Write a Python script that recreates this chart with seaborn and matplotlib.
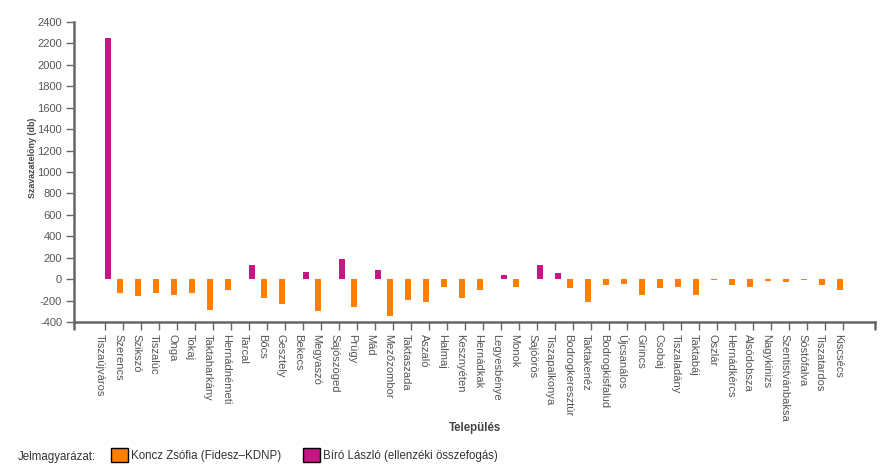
import matplotlib
matplotlib.use("Agg")
import numpy as np
import pandas as pd
import seaborn as sns
import matplotlib.pyplot as plt
import matplotlib.patches as mpatches
from matplotlib.lines import Line2D
from matplotlib.transforms import ScaledTranslation

# ---------------- data ----------------
settlements = [
    "Tiszaújváros", "Szerencs", "Szikszó", "Tiszalúc", "Onga", "Tokaj",
    "Taktaharkány", "Hernádnémeti", "Tarcal", "Bőcs", "Gesztely", "Bekecs",
    "Megyaszó", "Sajószöged", "Prügy", "Mád", "Mezőzombor", "Taktaszada",
    "Aszaló", "Halmaj", "Kesznyéten", "Hernádkak", "Legyesbénye", "Monok",
    "Sajóörös", "Tiszapalkonya", "Bodrogkeresztúr", "Taktakenéz",
    "Bodrogkisfalud", "Újcsanálos", "Girincs", "Csobaj", "Tiszaladány",
    "Taktabáj", "Oszlár", "Hernádkércs", "Alsódobsza", "Nagykinizs",
    "Szentistvánbaksa", "Sóstófalva", "Tiszatardos", "Kiscsécs",
]
koncz = [0, -134, -153, -128, -144, -134, -291, -97, 0, -175, -231, 0,
         -297, 0, -260, 0, -344, -197, -209, -72, -175, -100, 0, -72,
         0, 0, -84, -216, -59, -50, -144, -84, -78, -144, -6, -53,
         -72, -16, -25, -12, -59, -97]
biro = [2252, 0, 0, 0, 0, 0, 0, 0, 134, 0, 0, 66,
        0, 187, 0, 87, 0, 0, 0, 0, 0, 0, 37, 0,
        131, 53, 0, 0, 0, 0, 0, 0, 0, 0, 0, 0,
        0, 0, 0, 0, 0, 0]
series = ["Koncz Zsófia (Fidesz–KDNP)", "Bíró László (ellenzéki összefogás)"]
colors = ["#FF7F00", "#C71585"]
y_ticks = list(range(-400, 2401, 200))

# ---------------- style ----------------
sns.set_theme(style="white")
plt.rcParams["font.family"] = ["Liberation Sans", "DejaVu Sans"]

W, H = 888, 469
fig = plt.figure(figsize=(W / 100, H / 100), dpi=100)
ax = fig.add_axes([74 / W, 1 - 322 / H, (875 - 74) / W, 300 / H])

n = len(settlements)
df = pd.DataFrame({
    "Település": settlements * 2,
    "Szavazatelőny (db)": koncz + biro,
    "Jelölt": [series[0]] * n + [series[1]] * n,
})

sns.barplot(data=df, x="Település", y="Szavazatelőny (db)", hue="Jelölt",
            hue_order=series, order=settlements, palette=colors,
            width=0.75, gap=0.12, errorbar=None, linewidth=0,
            saturation=1, ax=ax, legend=False)

ax.set_ylim(-400, 2400)
ax.set_yticks(y_ticks)
ax.set_yticklabels([str(v) for v in y_ticks])
ax.set_xlim(-31 / 18, (n - 1) + 32 / 18)

for s in ["top", "right"]:
    ax.spines[s].set_visible(False)
for s in ["left", "bottom"]:
    ax.spines[s].set_color("#666666")
    ax.spines[s].set_linewidth(1.8)

ax.tick_params(axis="both", which="major", bottom=True, left=True,
               direction="out", length=6, width=1, color="#666666",
               labelsize=8, labelcolor="#555555", pad=2.5)

ax.set_xticks(range(n))
ax.set_xticklabels(settlements, rotation=-90, ha="center", va="top")
off = ScaledTranslation(-5 / 100, 0, fig.dpi_scale_trans)
for lab in ax.get_xticklabels():
    lab.set_transform(lab.get_transform() + off)

# outer ticks at axis ends
for xx in (0, 1):
    ax.add_line(Line2D([xx, xx], [0, -7 / 300], transform=ax.transAxes,
                       color="#666666", lw=1.8, clip_on=False))

ax.set_xlabel("Település", fontsize=8.3, fontweight="bold", color="#444444")
ax.xaxis.set_label_coords(0.5, -0.335)
ax.set_ylabel("Szavazatelőny (db)", fontsize=6.4, fontweight="bold",
              color="#444444")
ax.yaxis.set_label_coords(-0.046, 0.547)

# legend
fig.text(18 / W, 1 - 457 / H, "Jelmagyarázat:", fontsize=8.3, color="#333333",
         va="center", ha="left")
handles = [mpatches.Patch(facecolor=c, edgecolor="black", linewidth=1) for c in colors]
leg = fig.legend(handles, series, loc="center left",
                 bbox_to_anchor=(111 / W, 1 - 455 / H), ncol=2, frameon=False,
                 fontsize=8.3, handlelength=1.45, handleheight=1.45,
                 handletextpad=0.3, columnspacing=1.9, borderpad=0,
                 borderaxespad=0)
for t in leg.get_texts():
    t.set_color("#333333")

fig.savefig("out.png", dpi=100, facecolor="white")
